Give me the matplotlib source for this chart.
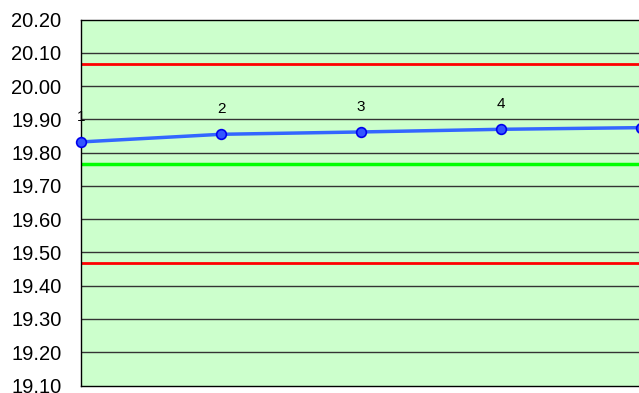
import matplotlib.pyplot as plt

# Data
runs      = [1, 2, 3, 4, 5]
values    = [19.832, 19.855, 19.862, 19.870, 19.875]
center    = 19.767
upper     = 20.067
lower     = 19.467
y_ticks   = [19.10, 19.20, 19.30, 19.40, 19.50, 19.60, 19.70, 19.80, 19.90, 20.00, 20.10, 20.20]

plt.rcParams['font.family'] = ['Liberation Sans', 'DejaVu Sans']

W, H = 639, 393
fig = plt.figure(figsize=(W / 100, H / 100), dpi=100)

# plot area runs past the right edge of the picture
left, right, top, bottom = 81, 641, 19.5, 385.5
ax = fig.add_axes([left / W, 1 - bottom / H, (right - left) / W, (bottom - top) / H])
ax.set_facecolor('#CCFFCC')

ax.set_xlim(1, 5)
ax.set_ylim(19.10, 20.20)
ax.set_yticks(y_ticks)
ax.set_yticklabels([f"{t:.2f}" for t in y_ticks], fontsize=14.5)
ax.set_xticks([])
ax.tick_params(axis='y', length=0, pad=14)

for t in y_ticks[1:-1]:
  ax.axhline(t, color='#333333', lw=1, zorder=1)

ax.axhline(upper,  color='#FF0000', lw=2, zorder=2)
ax.axhline(lower,  color='#FF0000', lw=2, zorder=2)
ax.axhline(center, color='#00FF00', lw=2.5, zorder=2)

ax.plot(runs, values, color='#3366FF', lw=2.5, marker='o', markersize=7,
        markerfacecolor='#3355FF', markeredgecolor='#0000EE', markeredgewidth=1.2,
        zorder=3, clip_on=False)

for x, y in zip(runs[:4], values[:4]):
  ax.annotate(str(x), (x, y), xytext=(0, 13), textcoords='offset points',
              ha='center', va='bottom', fontsize=11, zorder=4)

ax.spines['right'].set_visible(False)
for side in ['left', 'top', 'bottom']:
  ax.spines[side].set_color('black')
  ax.spines[side].set_linewidth(1)

fig.savefig('out.png', dpi=100)
